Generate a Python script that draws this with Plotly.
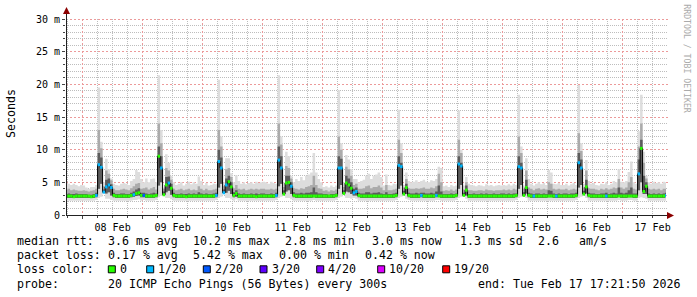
import math
import plotly.graph_objects as go
import pandas as pd

W, H = 697, 297
L, R, T, B = 66, 31, 19, 82
PW = W - L - R
PH = H - T - B

start = "2026-02-07 17:00"
x_range = ["2026-02-07 17:21:50", "2026-02-17 17:21:50"]
y_max = 30
y_tickvals = [0, 5, 10, 15, 20, 25, 30]
y_ticktext = ["0", "5 m", "10 m", "15 m", "20 m", "25 m", "30 m"]

# hourly median RTT (ms), rows: 07 Feb 17h-23h, 08..16 Feb, 17 Feb 0h-17h
med = (
    [2.9, 2.9, 2.9, 2.8, 2.9, 2.9, 2.9]
    + [2.9, 2.9, 2.9, 2.8, 2.9, 3.0, 7.7, 7.3, 3.5, 4.3, 4.6, 4.2, 3.0, 2.9, 2.9, 2.9, 2.9, 2.9, 2.9, 3.0, 3.1, 3.3, 3.4, 3.0]
    + [3.0, 2.9, 2.9, 2.9, 2.9, 3.0, 9.0, 7.2, 3.1, 4.6, 4.9, 4.1, 3.0, 2.9, 2.9, 2.9, 2.9, 2.8, 2.9, 2.9, 2.9, 2.9, 2.9, 2.9]
    + [2.9, 2.9, 2.9, 2.9, 2.9, 3.0, 8.2, 7.2, 3.4, 4.6, 5.1, 4.3, 3.0, 3.3, 2.9, 2.9, 2.9, 2.9, 2.9, 2.9, 2.9, 2.8, 2.9, 2.9]
    + [2.9, 2.9, 2.9, 2.9, 2.9, 3.0, 8.4, 7.2, 3.2, 4.9, 5.0, 4.4, 3.0, 2.9, 2.9, 2.9, 2.9, 2.9, 2.9, 2.9, 2.9, 2.9, 2.9, 2.9]
    + [2.9, 2.9, 2.9, 2.9, 2.9, 3.0, 7.2, 7.2, 3.3, 4.9, 4.6, 4.1, 3.4, 3.6, 3.0, 2.9, 2.9, 2.9, 2.9, 2.9, 2.9, 2.9, 2.9, 2.9]
    + [2.9, 2.9, 2.9, 2.9, 2.9, 3.0, 7.6, 7.4, 3.2, 4.2, 3.0, 2.9, 2.9, 2.9, 2.9, 3.0, 2.9, 2.9, 2.9, 2.9, 2.9, 3.0, 2.9, 2.9]
    + [2.9, 2.9, 2.9, 2.9, 2.9, 3.0, 7.8, 7.5, 3.0, 3.8, 2.9, 2.9, 2.9, 2.9, 2.9, 2.9, 2.9, 2.9, 2.9, 2.9, 2.9, 2.9, 2.9, 2.9]
    + [2.9, 2.9, 2.9, 2.9, 2.9, 3.0, 7.4, 7.2, 3.0, 4.2, 3.0, 2.9, 2.9, 2.9, 2.9, 2.9, 2.9, 2.9, 2.9, 2.9, 2.9, 2.9, 2.9, 2.9]
    + [2.9, 2.9, 2.9, 2.9, 2.9, 3.0, 8.0, 7.2, 3.2, 4.3, 3.0, 2.9, 2.9, 2.9, 2.9, 2.9, 2.9, 2.9, 2.9, 2.9, 2.9, 2.9, 2.9, 2.9]
    + [2.9, 2.9, 2.9, 2.9, 2.9, 2.9, 6.3, 10.2, 3.6, 4.4, 2.9, 2.9, 2.9, 2.9, 2.9, 2.9, 2.9, 3.0]
)

# lost pings out of 20 per hour
loss = (
    [0, 0, 0, 0, 0, 0, 0]
    + [0, 0, 0, 0, 0, 1, 1, 1, 1, 1, 1, 1, 0, 0, 0, 0, 0, 0, 0, 0, 1, 0, 0, 0]
    + [2, 0, 0, 0, 0, 0, 0, 1, 0, 0, 1, 0, 0, 0, 0, 0, 0, 0, 0, 0, 0, 0, 0, 0]
    + [0, 0, 0, 0, 0, 1, 1, 1, 1, 1, 0, 0, 0, 0, 0, 0, 0, 0, 0, 0, 0, 0, 0, 0]
    + [0, 0, 0, 0, 0, 1, 1, 1, 0, 0, 0, 1, 0, 0, 0, 0, 0, 0, 0, 0, 0, 0, 0, 0]
    + [0, 0, 0, 0, 0, 0, 1, 1, 0, 0, 0, 0, 1, 1, 0, 0, 0, 0, 0, 0, 0, 0, 0, 0]
    + [0, 0, 0, 0, 0, 0, 1, 1, 0, 0, 0, 0, 0, 0, 0, 1, 0, 0, 0, 0, 0, 1, 0, 0]
    + [0, 0, 0, 0, 0, 0, 1, 1, 0, 0, 0, 0, 0, 0, 0, 0, 0, 0, 0, 0, 0, 0, 0, 0]
    + [0, 0, 0, 0, 0, 0, 1, 1, 0, 0, 0, 0, 1, 0, 0, 0, 0, 0, 0, 0, 0, 1, 0, 0]
    + [0, 0, 0, 0, 0, 0, 1, 1, 0, 0, 0, 0, 0, 0, 0, 0, 0, 1, 0, 0, 0, 0, 0, 0]
    + [0, 0, 0, 0, 0, 0, 1, 0, 0, 0, 0, 0, 0, 0, 0, 0, 0, 1]
)

# smoke: lowest ping, 25th pct, 75th pct, 90th pct, highest ping (ms)
lo = (
    [2.2, 2.2, 2.2, 2.2, 2.2, 2.2, 2.2]
    + [2.2, 2.2, 2.2, 2.2, 2.2, 2.3, 2.6, 2.8, 3.3, 2.5, 2.5, 2.3, 2.2, 2.2, 2.2, 2.2, 2.2, 2.2, 2.2, 2.2, 2.3, 2.3, 2.4, 2.2]
    + [2.3, 2.2, 2.2, 2.2, 2.2, 2.3, 2.7, 2.9, 3.0, 2.6, 2.6, 2.4, 2.2, 2.2, 2.2, 2.2, 2.2, 2.2, 2.2, 2.2, 2.2, 2.2, 2.2, 2.2]
    + [2.2, 2.2, 2.2, 2.2, 2.2, 2.3, 2.6, 2.8, 3.3, 2.6, 2.6, 2.4, 2.2, 2.4, 2.2, 2.2, 2.2, 2.2, 2.2, 2.2, 2.2, 2.2, 2.2, 2.2]
    + [2.2, 2.2, 2.2, 2.2, 2.2, 2.3, 2.6, 2.8, 3.1, 2.6, 2.6, 2.4, 2.2, 2.2, 2.2, 2.2, 2.2, 2.2, 2.2, 2.2, 2.3, 2.2, 2.2, 2.2]
    + [2.2, 2.2, 2.2, 2.2, 2.2, 2.3, 2.6, 2.8, 3.1, 2.6, 2.6, 2.5, 2.6, 2.5, 2.2, 2.2, 2.2, 2.2, 2.2, 2.2, 2.2, 2.2, 2.2, 2.2]
    + [2.2, 2.2, 2.2, 2.2, 2.2, 2.3, 2.6, 2.8, 3.1, 2.5, 2.3, 2.2, 2.2, 2.2, 2.2, 2.2, 2.2, 2.2, 2.2, 2.2, 2.2, 2.3, 2.3, 2.2]
    + [2.2, 2.2, 2.2, 2.2, 2.2, 2.3, 2.6, 2.8, 2.9, 2.5, 2.2, 2.2, 2.2, 2.2, 2.2, 2.2, 2.2, 2.2, 2.2, 2.2, 2.2, 2.2, 2.2, 2.2]
    + [2.2, 2.2, 2.2, 2.2, 2.2, 2.3, 2.6, 2.8, 2.9, 2.6, 2.2, 2.2, 2.2, 2.2, 2.2, 2.2, 2.2, 2.2, 2.2, 2.2, 2.2, 2.2, 2.2, 2.2]
    + [2.2, 2.2, 2.2, 2.2, 2.2, 2.3, 2.6, 2.8, 3.1, 2.6, 2.2, 2.2, 2.2, 2.2, 2.2, 2.2, 2.2, 2.2, 2.2, 2.2, 2.2, 2.2, 2.3, 2.2]
    + [2.2, 2.2, 2.3, 2.3, 2.2, 2.2, 2.6, 2.7, 2.6, 2.5, 2.2, 2.2, 2.2, 2.2, 2.2, 2.2, 2.2, 2.2]
)
q1 = (
    [2.6, 2.6, 2.6, 2.6, 2.6, 2.6, 2.6]
    + [2.6, 2.6, 2.6, 2.6, 2.6, 2.7, 4.0, 4.8, 3.4, 3.3, 3.5, 3.0, 2.7, 2.6, 2.6, 2.6, 2.6, 2.6, 2.6, 2.7, 2.8, 2.9, 3.0, 2.7]
    + [2.7, 2.6, 2.6, 2.6, 2.6, 2.7, 4.5, 5.0, 3.1, 3.5, 3.7, 3.1, 2.7, 2.6, 2.6, 2.6, 2.6, 2.6, 2.6, 2.6, 2.6, 2.6, 2.6, 2.6]
    + [2.6, 2.6, 2.6, 2.6, 2.6, 2.7, 4.2, 4.8, 3.4, 3.4, 3.7, 3.2, 2.7, 2.8, 2.6, 2.6, 2.6, 2.6, 2.6, 2.6, 2.6, 2.6, 2.6, 2.6]
    + [2.6, 2.6, 2.6, 2.6, 2.6, 2.7, 4.4, 4.8, 3.2, 3.6, 3.8, 3.2, 2.7, 2.6, 2.6, 2.6, 2.6, 2.6, 2.6, 2.6, 2.7, 2.6, 2.6, 2.6]
    + [2.6, 2.6, 2.6, 2.6, 2.6, 2.7, 4.0, 4.6, 3.2, 3.6, 3.5, 3.2, 3.0, 3.0, 2.7, 2.6, 2.6, 2.6, 2.6, 2.6, 2.6, 2.6, 2.6, 2.6]
    + [2.6, 2.6, 2.6, 2.6, 2.6, 2.7, 4.0, 4.5, 3.2, 3.2, 2.7, 2.6, 2.6, 2.6, 2.6, 2.7, 2.6, 2.6, 2.6, 2.6, 2.6, 2.7, 2.8, 2.6]
    + [2.6, 2.6, 2.6, 2.6, 2.6, 2.7, 4.0, 4.6, 3.0, 3.0, 2.6, 2.6, 2.6, 2.6, 2.6, 2.6, 2.6, 2.6, 2.6, 2.6, 2.6, 2.6, 2.6, 2.6]
    + [2.6, 2.6, 2.6, 2.6, 2.6, 2.7, 4.0, 4.6, 3.0, 3.3, 2.7, 2.6, 2.6, 2.6, 2.6, 2.6, 2.6, 2.6, 2.7, 2.7, 2.6, 2.6, 2.6, 2.6]
    + [2.6, 2.6, 2.6, 2.6, 2.6, 2.7, 4.2, 4.6, 3.2, 3.3, 2.7, 2.6, 2.6, 2.6, 2.6, 2.6, 2.6, 2.6, 2.6, 2.6, 2.6, 2.6, 2.8, 2.6]
    + [2.6, 2.6, 2.7, 2.7, 2.6, 2.6, 3.8, 5.0, 3.2, 3.2, 2.6, 2.6, 2.6, 2.6, 2.6, 2.6, 2.6, 2.7]
)
q3 = (
    [3.2, 3.3, 3.2, 3.2, 3.3, 3.2, 3.2]
    + [3.2, 3.2, 3.1, 3.1, 3.2, 3.4, 9.5, 8.8, 3.9, 5.4, 5.6, 4.7, 3.4, 3.2, 3.2, 3.3, 3.3, 3.2, 3.2, 3.4, 3.6, 3.9, 4.1, 3.4]
    + [3.4, 3.3, 3.2, 3.3, 3.4, 3.3, 10.5, 9.0, 3.6, 5.8, 5.9, 4.8, 3.4, 3.2, 3.2, 3.3, 3.2, 3.2, 3.3, 3.2, 3.3, 3.2, 3.5, 3.3]
    + [3.2, 3.3, 3.2, 3.2, 3.3, 3.4, 10.0, 8.8, 3.9, 5.6, 6.0, 5.0, 3.5, 3.8, 3.3, 3.2, 3.3, 3.2, 3.2, 3.3, 3.2, 3.3, 3.2, 3.3]
    + [3.3, 3.2, 3.2, 3.3, 3.2, 3.4, 10.5, 9.0, 3.8, 6.0, 6.0, 5.0, 3.5, 3.3, 3.3, 3.4, 3.3, 3.4, 3.4, 3.5, 4.2, 3.5, 3.3, 3.3]
    + [3.2, 3.2, 3.1, 3.2, 3.2, 3.3, 9.0, 8.6, 3.8, 6.0, 5.6, 5.0, 4.0, 4.2, 3.4, 3.3, 3.3, 3.5, 3.5, 3.3, 3.4, 3.4, 3.5, 3.3]
    + [3.2, 3.5, 3.2, 3.2, 3.3, 3.4, 9.0, 8.0, 3.7, 4.8, 3.4, 3.3, 3.3, 3.4, 3.3, 3.4, 3.4, 3.3, 3.3, 3.4, 3.3, 3.6, 4.5, 3.6]
    + [3.2, 3.2, 3.2, 3.3, 3.2, 3.3, 9.0, 8.0, 3.4, 4.5, 3.2, 3.2, 3.3, 3.2, 3.2, 3.3, 3.2, 3.3, 3.2, 3.2, 3.3, 3.2, 3.2, 3.3]
    + [3.3, 3.2, 3.3, 3.2, 3.3, 3.3, 9.0, 8.0, 3.5, 5.4, 3.4, 3.3, 3.2, 3.3, 3.3, 3.2, 3.3, 3.2, 3.8, 3.7, 3.3, 3.2, 3.3, 3.2]
    + [3.3, 3.3, 3.2, 3.3, 3.3, 3.4, 9.5, 8.5, 3.7, 5.4, 3.4, 3.3, 3.3, 3.2, 3.2, 3.3, 3.3, 3.4, 3.2, 3.3, 3.4, 3.3, 4.2, 3.4]
    + [3.3, 3.4, 3.8, 4.2, 3.3, 3.3, 8.5, 11.5, 6.0, 5.0, 3.3, 3.2, 3.3, 3.2, 3.3, 3.2, 3.3, 3.4]
)
p90 = (
    [3.9, 4.0, 3.8, 3.9, 3.8, 3.7, 3.7]
    + [3.8, 3.7, 3.6, 3.7, 3.8, 4.0, 13.0, 10.2, 4.4, 6.8, 6.3, 5.3, 4.0, 3.8, 3.8, 3.9, 4.0, 3.9, 3.8, 4.1, 4.4, 4.8, 4.9, 4.0]
    + [4.1, 4.2, 3.9, 4.1, 4.3, 3.9, 14.0, 11.0, 4.0, 7.2, 6.8, 5.4, 4.0, 3.8, 3.9, 4.0, 3.8, 3.9, 4.0, 3.8, 3.9, 3.8, 4.4, 4.0]
    + [3.8, 4.0, 3.8, 3.8, 3.9, 4.0, 13.0, 10.5, 4.4, 7.0, 7.2, 5.8, 4.1, 4.6, 4.0, 3.9, 4.0, 3.8, 3.9, 4.0, 3.9, 4.0, 3.9, 4.0]
    + [4.0, 3.9, 3.9, 4.0, 3.9, 4.0, 14.0, 10.8, 4.3, 7.5, 7.2, 5.6, 4.1, 4.0, 3.9, 4.1, 4.0, 4.3, 4.4, 4.6, 6.0, 4.6, 4.1, 4.0]
    + [3.7, 3.8, 3.6, 3.8, 3.7, 3.9, 12.0, 10.0, 4.3, 7.4, 7.0, 6.0, 4.6, 4.8, 4.0, 4.0, 4.1, 4.4, 4.5, 4.1, 4.3, 4.3, 4.5, 4.2]
    + [3.8, 4.6, 3.8, 3.8, 3.9, 4.0, 11.5, 9.5, 4.2, 5.5, 4.1, 4.0, 4.0, 4.1, 4.0, 4.1, 4.2, 4.0, 4.0, 4.2, 4.1, 4.4, 6.3, 5.0]
    + [3.7, 3.8, 3.7, 3.9, 3.7, 3.9, 11.5, 9.5, 3.9, 5.0, 3.8, 3.8, 3.7, 3.7, 3.8, 3.8, 3.7, 3.9, 3.8, 3.8, 3.7, 3.8, 3.8, 3.8]
    + [3.9, 3.8, 3.9, 3.8, 4.0, 3.9, 12.0, 9.5, 4.0, 6.8, 4.2, 4.0, 3.8, 4.0, 4.1, 3.9, 4.0, 3.9, 5.0, 4.8, 4.0, 3.9, 4.0, 3.9]
    + [3.9, 4.0, 3.8, 3.9, 4.0, 3.9, 12.5, 9.8, 4.2, 6.8, 4.1, 4.0, 4.0, 3.9, 3.8, 4.0, 3.9, 4.1, 3.9, 4.0, 4.2, 4.1, 5.5, 4.2]
    + [4.0, 4.2, 5.0, 5.8, 4.0, 3.9, 10.5, 14.0, 8.0, 5.6, 4.0, 3.9, 4.0, 3.9, 4.0, 3.8, 4.0, 4.0]
)
hi = (
    [4.9, 4.8, 4.6, 4.8, 4.6, 4.4, 4.6]
    + [4.5, 4.2, 4.0, 4.3, 4.3, 4.6, 19.5, 11.2, 5.0, 8.6, 7.0, 5.6, 4.8, 4.6, 4.5, 4.8, 4.9, 4.8, 4.6, 5.2, 5.5, 6.9, 6.6, 5.5]
    + [5.0, 5.6, 5.0, 5.5, 5.6, 5.0, 21.4, 13.0, 4.2, 9.3, 8.0, 6.0, 5.0, 4.6, 4.8, 5.0, 4.5, 4.8, 5.1, 4.7, 5.0, 4.8, 5.9, 5.2]
    + [4.6, 4.9, 4.5, 4.6, 4.8, 4.7, 20.7, 12.0, 5.0, 8.7, 8.7, 6.4, 5.0, 6.1, 5.2, 4.8, 5.0, 4.7, 4.9, 5.0, 4.8, 5.1, 4.9, 5.0]
    + [5.1, 5.0, 4.8, 5.1, 4.9, 4.8, 21.4, 12.0, 5.0, 9.7, 9.0, 6.0, 5.0, 5.5, 5.2, 5.8, 5.3, 6.0, 6.2, 6.5, 9.5, 6.5, 5.5, 5.0]
    + [4.3, 4.4, 4.2, 4.5, 4.3, 4.5, 19.1, 11.0, 5.0, 9.2, 8.5, 7.0, 5.5, 5.5, 5.0, 5.2, 5.4, 6.0, 6.3, 5.5, 6.0, 6.2, 6.5, 5.8]
    + [4.5, 6.2, 4.6, 4.5, 4.8, 4.7, 16.1, 11.0, 4.6, 6.5, 5.2, 5.0, 5.1, 5.3, 5.0, 5.2, 5.4, 5.1, 5.0, 5.3, 5.2, 5.5, 7.4, 7.2]
    + [4.4, 4.5, 4.3, 4.6, 4.4, 4.5, 16.0, 10.0, 4.5, 5.8, 4.8, 4.6, 4.5, 4.4, 4.6, 4.5, 4.4, 4.7, 4.5, 4.6, 4.4, 4.5, 4.6, 4.5]
    + [4.6, 4.5, 4.7, 4.5, 4.8, 4.6, 18.4, 10.5, 4.5, 8.7, 5.5, 4.8, 4.5, 4.8, 5.0, 4.7, 4.9, 4.6, 6.9, 6.5, 4.8, 4.7, 4.9, 4.6]
    + [4.6, 4.8, 4.5, 4.7, 4.9, 4.6, 19.9, 11.0, 4.8, 8.4, 5.2, 4.8, 4.9, 4.6, 4.5, 4.8, 4.7, 5.0, 4.6, 4.8, 5.2, 5.0, 7.0, 5.1]
    + [5.0, 5.2, 6.6, 8.2, 5.0, 4.8, 12.8, 18.4, 9.7, 6.0, 5.0, 4.8, 5.1, 4.9, 5.0, 4.8, 5.1, 5.0]
)

loss_levels = [0, 1, 2, 3, 4, 10, 19]
loss_labels = ["0", "1/20", "2/20", "3/20", "4/20", "10/20", "19/20"]
loss_colors = ["#26ff00", "#00b8ff", "#0059ff", "#5e00ff", "#7e00ff", "#dd00ff", "#ff0000"]

stats_rows = [
    [("median rtt:", 16.7), ("3.6 ms avg", 107.7), ("10.2 ms max", 192.7), ("2.8 ms min", 285.0),
     ("3.0 ms now", 372.3), ("1.3 ms sd", 460.0), ("2.6", 537.7), ("am/s", 579.3)],
    [("packet loss:", 16.7), ("0.17 % avg", 107.7), ("5.42 % max", 192.7), ("0.00 % min", 279.3),
     ("0.42 % now", 365.0)],
    [("loss color:", 16.7)],
    [("probe:", 16.7), ("20 ICMP Echo Pings (56 Bytes) every 300s", 107.7),
     ("end: Tue Feb 17 17:21:50 2026", 478.3)],
]
row_y = [241.0, 255.3, 269.3, 283.5]
swatch_x = [108.3, 146.7, 203.3, 260.0, 316.7, 377.7, 442.7]
swatch_label_x = [120.0, 158.3, 215.0, 271.7, 328.3, 389.3, 454.3]

MONO = "DejaVu Sans Mono"
MAJOR_GRID = "#ec9a9a"
MINOR_GRID = "#bdbdbd"

n = len(med)
times = list(pd.date_range(start, periods=n + 1, freq="h"))
t0, t1 = pd.Timestamp(x_range[0]), pd.Timestamp(x_range[1])

# grid positions: every 1 ms / 6 h (minor), every 5 ms / midnight (major)
y_minor = [v for v in range(0, y_max + 1) if v % 5 != 0]
y_major = [v for v in y_tickvals if v > 0]
x_all6h = list(pd.date_range("2026-02-07 18:00", "2026-02-17 12:00", freq="6h"))
x_minor = [t for t in x_all6h if t.hour != 0]
x_major = [t for t in x_all6h if t.hour == 0]


def ext(a):
    return list(a) + [a[-1]]


def px(x):
    return (x - L) / PW


def py(y):
    return (T + PH - y) / PH


def tpix(t):
    return L + (t - t0).total_seconds() / (t1 - t0).total_seconds() * PW


def vpix(v):
    return T + PH - v / y_max * PH


fig = go.Figure()

bands = [(lo, hi, "#dddddd"), (q1, p90, "#ababab"), (q1, q3, "#5c5c5c")]
for lower, upper, col in bands:
    fig.add_trace(go.Scatter(x=times, y=ext(lower), mode="lines",
                             line=dict(width=0, shape="hv"), hoverinfo="skip", showlegend=False))
    fig.add_trace(go.Scatter(x=times, y=ext(upper), mode="lines", fill="tonexty", fillcolor=col,
                             line=dict(width=0, shape="hv"), hoverinfo="skip", showlegend=False))

fig.add_trace(go.Scatter(x=times, y=ext(med), mode="lines",
                         line=dict(width=1, shape="hv", color="#000000"), hoverinfo="skip", showlegend=False))

for lvl, col in zip(loss_levels, loss_colors):
    xs, ys = [], []
    for i in range(n):
        if loss[i] == lvl:
            xs += [times[i], times[i + 1], None]
            ys += [med[i], med[i], None]
    if xs:
        fig.add_trace(go.Scatter(x=xs, y=ys, mode="lines", line=dict(width=3, color=col),
                                 hoverinfo="skip", showlegend=False))

shapes = []
grid_top, grid_bot, grid_left, grid_right = T, T + PH, L, L + PW + 2
for lst, col, dash in [(y_minor, MINOR_GRID, "1px,1px"), (y_major, MAJOR_GRID, "2px,2px")]:
    for v in lst:
        yp = math.floor(vpix(v)) + 0.5
        shapes.append(dict(type="line", xref="paper", yref="paper", layer="below",
                           x0=px(grid_left), x1=px(grid_right), y0=py(yp), y1=py(yp),
                           line=dict(color=col, width=1, dash=dash)))
for lst, col, dash in [(x_minor, MINOR_GRID, "1px,1px"), (x_major, MAJOR_GRID, "2px,2px")]:
    for t in lst:
        xp = math.floor(tpix(t)) + 0.5
        shapes.append(dict(type="line", xref="paper", yref="paper", layer="below",
                           x0=px(xp), x1=px(xp), y0=py(grid_top), y1=py(grid_bot),
                           line=dict(color=col, width=1, dash=dash)))

# axis lines with arrows
shapes.append(dict(type="line", xref="paper", yref="paper", x0=px(L), x1=px(669), y0=py(215.5), y1=py(215.5),
                   line=dict(color="#222222", width=1)))
shapes.append(dict(type="line", xref="paper", yref="paper", x0=px(L + 0.5), x1=px(L + 0.5), y0=py(215.5), y1=py(12),
                   line=dict(color="#222222", width=1)))
shapes.append(dict(type="path", xref="paper", yref="paper",
                   path=f"M {px(L+0.5)} {py(7)} L {px(L-3)} {py(14)} L {px(L+4)} {py(14)} Z",
                   fillcolor="#8b0000", line=dict(width=0)))
shapes.append(dict(type="path", xref="paper", yref="paper",
                   path=f"M {px(674)} {py(215.5)} L {px(667)} {py(212)} L {px(667)} {py(219)} Z",
                   fillcolor="#8b0000", line=dict(width=0)))
for sx, col in zip(swatch_x, loss_colors):
    shapes.append(dict(type="rect", xref="paper", yref="paper", x0=px(sx), x1=px(sx + 7),
                       y0=py(row_y[2] + 3.5), y1=py(row_y[2] - 3.5), fillcolor=col,
                       line=dict(color="#000000", width=1)))

annotations = []
for row, yy in zip(stats_rows, row_y):
    for txt, xx in row:
        annotations.append(dict(text=txt, x=px(xx), y=py(yy), xref="paper", yref="paper",
                                xanchor="left", yanchor="middle", showarrow=False,
                                borderpad=0, borderwidth=0,
                                font=dict(family=MONO, size=11.6, color="#000000")))
for txt, xx in zip(loss_labels, swatch_label_x):
    annotations.append(dict(text=txt, x=px(xx), y=py(row_y[2]), xref="paper", yref="paper",
                            xanchor="left", yanchor="middle", showarrow=False,
                            borderpad=0, borderwidth=0,
                            font=dict(family=MONO, size=11.6, color="#000000")))
annotations.append(dict(text="Seconds", x=px(11), y=py(114), xref="paper", yref="paper",
                        xanchor="center", yanchor="middle", textangle=-90, showarrow=False,
                        borderpad=0, borderwidth=0,
                        font=dict(family=MONO, size=11.6, color="#000000")))
annotations.append(dict(text="RRDTOOL / TOBI OETIKER", x=px(686.7), y=py(59), xref="paper", yref="paper",
                        xanchor="center", yanchor="middle", textangle=90, showarrow=False,
                        borderpad=0, borderwidth=0,
                        font=dict(family=MONO, size=8.2, color="#aaaaaa")))

fig.update_layout(
    width=W, height=H,
    margin=dict(l=L, r=R, t=T, b=B, pad=0),
    paper_bgcolor="#ffffff", plot_bgcolor="rgba(0,0,0,0)",
    showlegend=False,
    shapes=shapes, annotations=annotations,
    xaxis=dict(
        type="date", range=x_range, showline=False, zeroline=False, showgrid=False,
        tick0="2026-02-08", dtick=86400000, tickformat="%d %b", ticklabelmode="period",
        ticks="outside", ticklen=3, tickcolor="#444444",
        tickfont=dict(family=MONO, size=10, color="#000000"),
        minor=dict(tickmode="array", tickvals=x_minor, showgrid=False,
                   ticks="outside", ticklen=2, tickcolor="#444444"),
    ),
    yaxis=dict(
        range=[0, y_max], showline=False, zeroline=False, showgrid=False,
        tickmode="array", tickvals=y_tickvals, ticktext=y_ticktext,
        ticks="outside", ticklen=3, tickcolor="#444444",
        tickfont=dict(family=MONO, size=10, color="#000000"),
        minor=dict(tickmode="array", tickvals=y_minor, showgrid=False,
                   ticks="outside", ticklen=2, tickcolor="#444444"),
    ),
)

fig.write_html("out.html")
